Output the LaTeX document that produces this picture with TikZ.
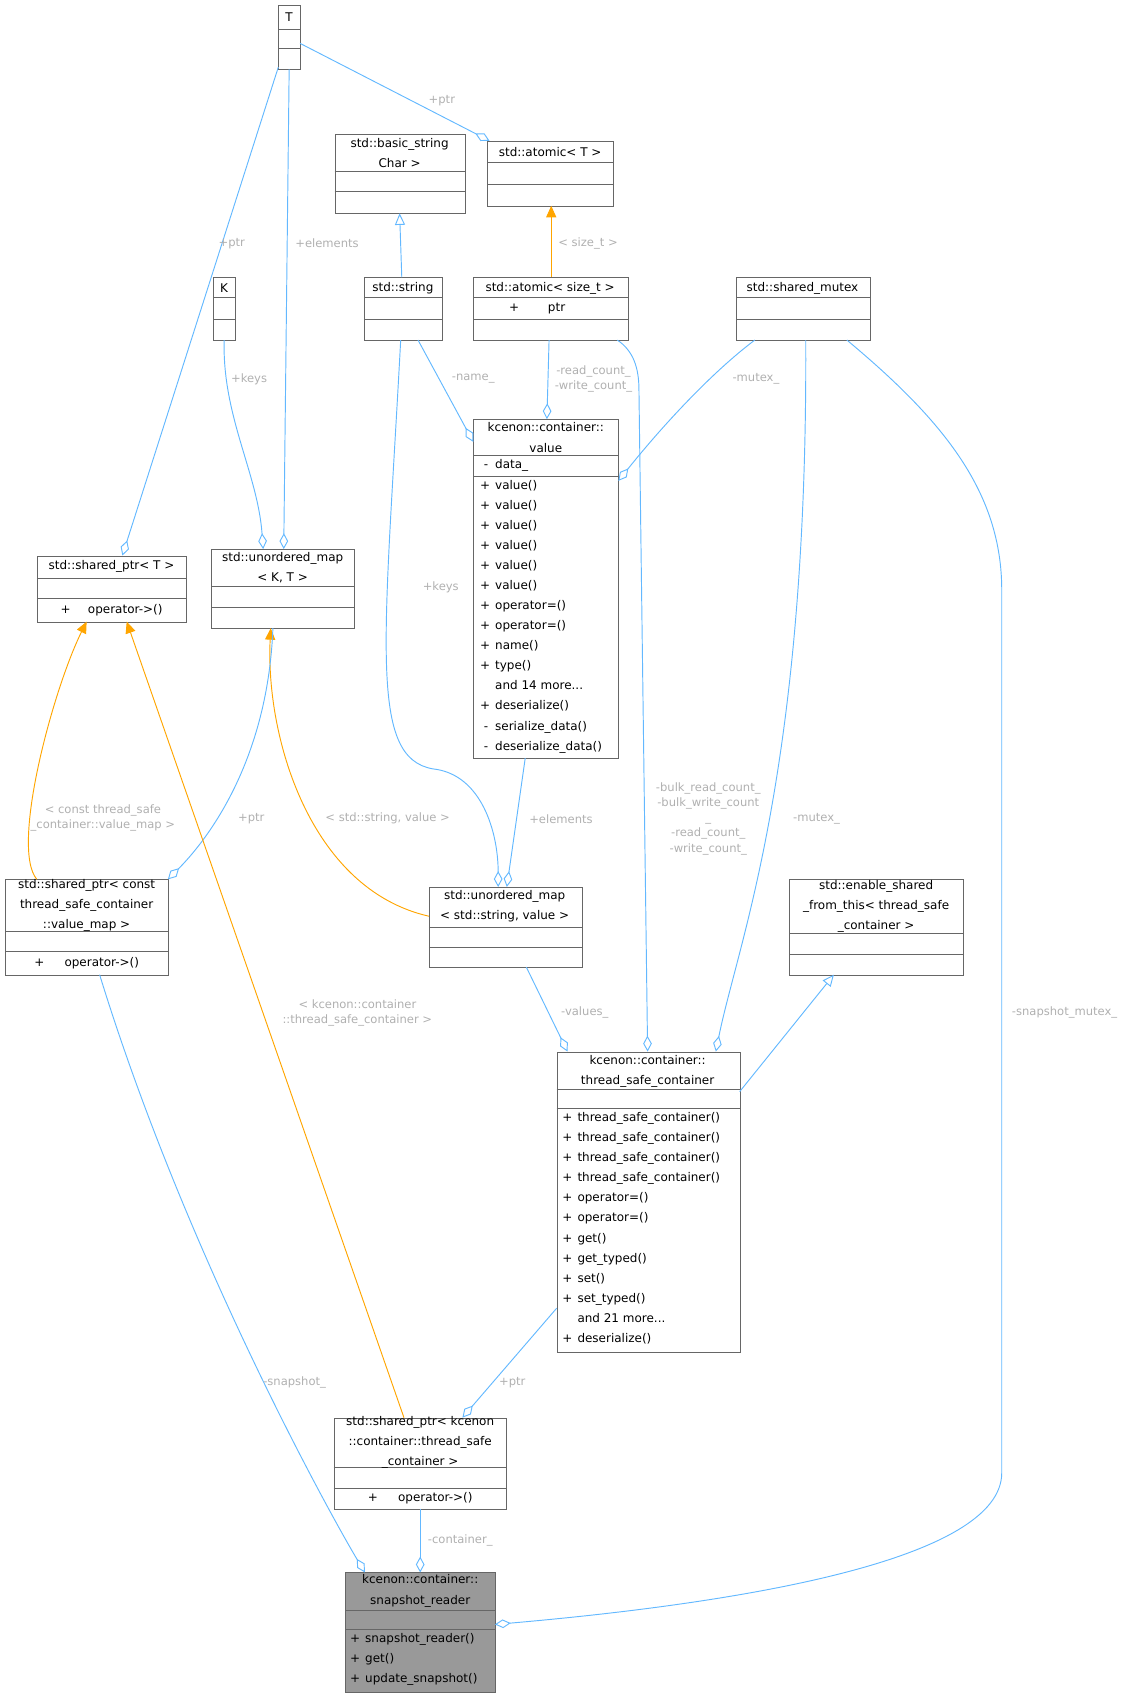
\documentclass[tikz,border=0pt]{standalone}
\usepackage{fontspec}
\setmainfont{DejaVu Sans}
\usetikzlibrary{arrows.meta,calc}
\definecolor{ablue}{HTML}{63B8FF}
\definecolor{aorange}{HTML}{FFA500}
\definecolor{lgray}{HTML}{B0B0B0}
\definecolor{bgray}{HTML}{666666}
\tikzset{
  box/.style={draw=bgray,line width=0.7pt,inner sep=0pt},
  bl/.style={draw=bgray,line width=0.7pt},
  ttl/.style={align=center,inner sep=0pt,font=\fontsize{8.3}{13.9}\selectfont},
  lst/.style={align=left,inner sep=0pt,anchor=north west,font=\fontsize{8.3}{13.9}\selectfont},
  lab/.style={text=lgray,inner sep=1pt,align=center,font=\fontsize{8}{10.5}\selectfont},
  edge/.style={draw=ablue,line width=0.65pt},
  agg/.style={edge,-{Diamond[open,length=11pt,width=6pt]}},
  inh/.style={edge,-{Triangle[open,length=8pt,width=7pt]}},
  tpl/.style={draw=aorange,line width=0.65pt,-{Triangle[length=8pt,width=7pt,fill=aorange]}},
}
\newcommand\ubox[6][]{%
  \pgfmathsetmacro\bw{(#4-#2)*0.75}\pgfmathsetmacro\bh{(#5-#3)*0.75}%
  \node[box,#1,minimum width=\bw pt,minimum height=\bh pt,anchor=north west] (#6) at (#2,#3) {};}
\newcommand\hs[3]{\draw[bl] (#1,#3)--(#2,#3);}
\newcommand\pl{\makebox[10.5pt][l]{+}}
\newcommand\mi{\makebox[10.5pt][l]{\ -}}
\newcommand\nn{\makebox[10.5pt][l]{}}
\begin{document}
\begin{tikzpicture}[x=0.75pt,y=-0.75pt]
\useasboundingbox (0,0) rectangle (1045,1567);
% T
\ubox{257}{5}{277}{64}{T}
\hs{257}{277}{27}\hs{257}{277}{45}
\node[ttl] (tT) at (267,16) {T};
% basic_string
\ubox{309}{124}{429}{197}{bs}
\hs{309}{429}{158}\hs{309}{429}{177}
\node[ttl] (tbs) at (369,141) {std::basic\_string\\Char >};
\node[ttl] at (369,141) {\phantom{x}};
% atomic<T>
\ubox{450}{130}{566}{190}{aT}
\hs{450}{566}{150}\hs{450}{566}{170}
\node[ttl] (taT) at (508,140) {std::atomic< T >};
% K
\ubox{197}{256}{217}{314}{K}
\hs{197}{217}{275}\hs{197}{217}{295}
\node[ttl] (tK) at (207,266) {K};
% string
\ubox{336}{256}{408}{314}{str}
\hs{336}{408}{275}\hs{336}{408}{295}
\node[ttl] (tstr) at (372,266) {std::string};
% atomic<size_t>
\ubox{437}{256}{580}{314}{aS}
\hs{437}{580}{275}\hs{437}{580}{295}
\node[ttl] (taS) at (508,266) {std::atomic< size\_t >};
\node[ttl] (taS2) at (496,285) {+\hspace{20pt}ptr};
% shared_mutex
\ubox{680}{256}{803}{314}{sm}
\hs{680}{803}{275}\hs{680}{803}{295}
\node[ttl] (tsm) at (741,266) {std::shared\_mutex};
% value
\ubox{437}{387}{571}{700}{val}
\hs{437}{571}{421}\hs{437}{571}{440}
\node[ttl] (tval) at (504,404) {kcenon::container::\\value};
\node[lst] (lval1) at (443,424) {\mi data\_};
\node[lst] (lval2) at (443,443) {\pl value()\\\pl value()\\\pl value()\\\pl value()\\\pl value()\\\pl value()\\\pl operator=()\\\pl operator=()\\\pl name()\\\pl type()\\\nn and 14 more...\\\pl deserialize()\\\mi serialize\_data()\\\mi deserialize\_data()};
% shared_ptr<T>
\ubox{34}{513}{172}{574}{spT}
\hs{34}{172}{534}\hs{34}{172}{553}
\node[ttl] (tspT) at (103,523) {std::shared\_ptr< T >};
\node[ttl] (tspT2) at (103,563) {+\hspace{12pt}operator->()};
% unordered_map<K,T>
\ubox{195}{507}{327}{580}{umK}
\hs{195}{327}{542}\hs{195}{327}{561}
\node[ttl] (tumK) at (261,524) {std::unordered\_map\\< K, T >};
% shared_ptr<const>
\ubox{5}{812}{155}{900}{spc}
\hs{5}{155}{860}\hs{5}{155}{879}
\node[ttl] (tspc) at (80,836) {std::shared\_ptr< const\\thread\_safe\_container\\::value\_map >};
\node[ttl] (tspc2) at (80,889) {+\hspace{14pt}operator->()};
% unordered_map<string,value>
\ubox{396}{819}{537}{893}{umS}
\hs{396}{537}{856}\hs{396}{537}{875}
\node[ttl] (tumS) at (466,837) {std::unordered\_map\\< std::string, value >};
% enable_shared
\ubox{729}{812}{889}{900}{esf}
\hs{729}{889}{862}\hs{729}{889}{881}
\node[ttl] (tesf) at (809,837) {std::enable\_shared\\\_from\_this< thread\_safe\\\_container >};
% thread_safe_container
\ubox{514}{971}{683}{1248}{tsc}
\hs{514}{683}{1006}\hs{514}{683}{1024}
\node[ttl] (ttsc) at (598,989) {kcenon::container::\\thread\_safe\_container};
\node[lst] (ltsc) at (519,1027) {\pl thread\_safe\_container()\\\pl thread\_safe\_container()\\\pl thread\_safe\_container()\\\pl thread\_safe\_container()\\\pl operator=()\\\pl operator=()\\\pl get()\\\pl get\_typed()\\\pl set()\\\pl set\_typed()\\\nn and 21 more...\\\pl deserialize()};
% shared_ptr<kcenon>
\ubox{308}{1309}{467}{1393}{spk}
\hs{308}{467}{1355}\hs{308}{467}{1374}
\node[ttl] (tspk) at (388,1332) {std::shared\_ptr< kcenon\\::container::thread\_safe\\\_container >};
\node[ttl] (tspk2) at (388,1383) {+\hspace{14pt}operator->()};
% snapshot_reader
\ubox[fill=black!40]{319}{1452}{457}{1562}{snap}
\hs{319}{457}{1487}\hs{319}{457}{1505}
\node[ttl] (tsnap) at (388,1469) {kcenon::container::\\snapshot\_reader};
\node[lst] (lsnap) at (323,1508) {\pl snapshot\_reader()\\\pl get()\\\pl update\_snapshot()};

% connectors
\draw[agg] ($(T.north west)+(20,35)$) -- ($(aT.north west)+(2,0)$);
\draw[agg] ($(T.north west)+(0,57)$) -- ($(spT.north west)+(79,0)$);
\draw[agg] ($(T.north west)+(10,59)$) -- ($(umK.north west)+(67,0)$);
\draw[agg] ($(K.north west)+(10,58)$) .. controls +(-2,70) and +(-5,-70) .. ($(umK.north west)+(48,0)$);
\draw[inh] ($(str.north west)+(35,0)$) -- ($(bs.north west)+(60,73)$);
\draw[tpl] ($(aS.north west)+(72,0)$) -- ($(aT.north west)+(59,60)$);
\draw[agg] ($(str.north west)+(50,58)$) -- ($(val.north west)+(0,21)$);
\draw[agg] ($(aS.north west)+(70,58)$) -- ($(val.north west)+(68,0)$);
\draw[agg] ($(sm.north west)+(17,58)$) .. controls +(-40,30) and +(40,-50) .. ($(val.north west)+(134,57)$);
\draw[agg] ($(str.north west)+(34,58)$) .. controls +(-15,280) and +(-60,-10) .. (400,710) .. controls +(45,5) and +(0,-50) .. ($(umS.north west)+(64,0)$);
\draw[agg] ($(val.north west)+(48,313)$) -- ($(umS.north west)+(72,0)$);
\draw[tpl] ($(umS.north west)+(0,27)$) .. controls +(-110,-25) and +(-5,100) .. ($(umK.north west)+(55,73)$);
\draw[tpl] ($(spc.north west)+(29,0)$) .. controls +(-25,-30) and +(-30,60) .. ($(spT.north west)+(46,61)$);
\draw[agg] ($(umK.north west)+(57,73)$) .. controls +(-5,130) and +(30,-30) .. ($(spc.north west)+(150,0)$);
\draw[tpl] ($(spk.north west)+(65,0)$) -- ($(spT.north west)+(83,61)$);
\draw[agg] ($(aS.north west)+(133,58)$) .. controls +(15,10) and +(0,-20) .. (590,360) -- ($(tsc.north west)+(84,0)$);
\draw[agg] ($(sm.north west)+(64,58)$) .. controls +(2,400) and +(20,-100) .. ($(tsc.north west)+(147,0)$);
\draw[agg] ($(umS.north west)+(90,74)$) -- ($(tsc.north west)+(10,0)$);
\draw[inh] ($(tsc.north west)+(169,37)$) -- ($(esf.north west)+(41,88)$);
\draw[agg] ($(tsc.north west)+(0,237)$) -- ($(spk.north west)+(119,0)$);
\draw[agg] ($(spc.north west)+(87,88)$) .. controls +(80,260) and +(-30,-50) .. ($(snap.north west)+(18,0)$);
\draw[agg] ($(spk.north west)+(80,84)$) -- ($(snap.north west)+(69,0)$);
\draw[agg] ($(sm.north west)+(102,58)$) .. controls +(90,75) and +(0,-90) .. (925,545) -- (925,1360) .. controls +(0,80) and +(230,-20) .. ($(snap.north west)+(138,48)$);

% labels
\node[lab] (l1) at (408,93) {+ptr};
\node[lab] (l2) at (214,225) {+ptr};
\node[lab] (l3) at (302,225) {+elements};
\node[lab] (l4) at (230,350) {+keys};
\node[lab] (l5) at (543,225) {< size\_t >};
\node[lab] (l6) at (437,350) {-name\_};
\node[lab] (l7) at (548,350) {-read\_count\_\\-write\_count\_};
\node[lab] (l8) at (698,350) {-mutex\_};
\node[lab] (l9) at (407,542) {+keys};
\node[lab] (l10) at (518,756) {+elements};
\node[lab] (l11) at (358,756) {< std::string, value >};
\node[lab] (l12) at (95,755) {< const thread\_safe\\\_container::value\_map >};
\node[lab] (l13) at (232,756) {+ptr};
\node[lab] (l14) at (330,935) {< kcenon::container\\::thread\_safe\_container >};
\node[lab] (l15) at (654,756) {-bulk\_read\_count\_\\-bulk\_write\_count\\\_\\-read\_count\_\\-write\_count\_};
\node[lab] (l16) at (754,756) {-mutex\_};
\node[lab] (l17) at (540,935) {-values\_};
\node[lab] (l18) at (473,1277) {+ptr};
\node[lab] (l19) at (272,1277) {-snapshot\_};
\node[lab] (l20) at (425,1422) {-container\_};
\node[lab] (l21) at (983,935) {-snapshot\_mutex\_};
\end{tikzpicture}
\end{document}
